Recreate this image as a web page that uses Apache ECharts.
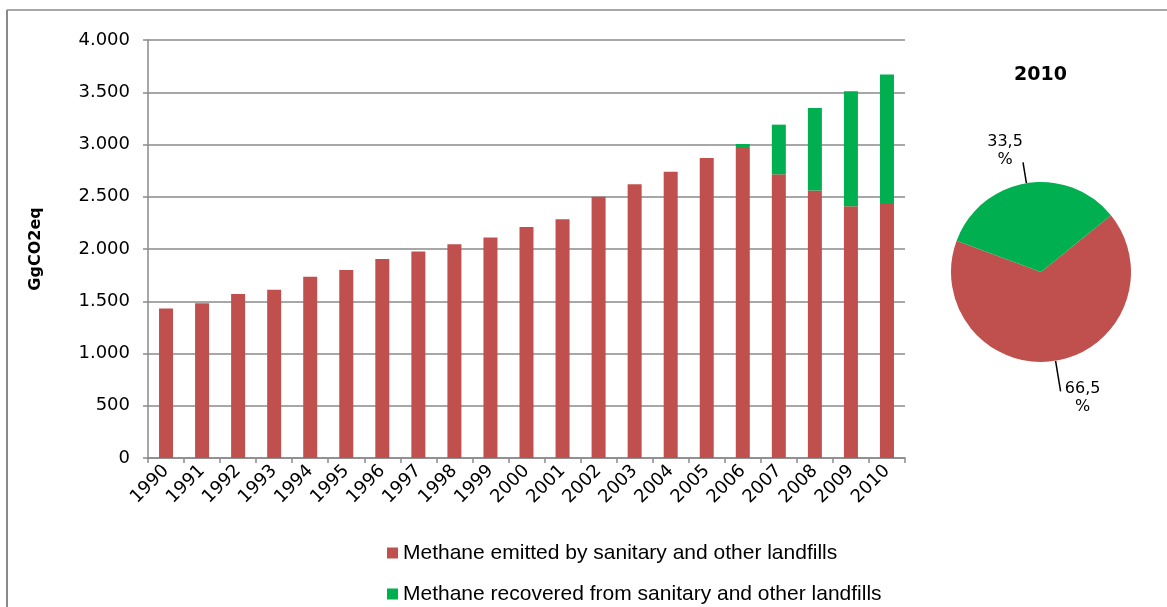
<!DOCTYPE html>
<html>
<head>
<meta charset="utf-8">
<script src="https://cdn.jsdelivr.net/npm/echarts@6/dist/echarts.min.js"></script>
<style>
  html, body { margin: 0; padding: 0; background: #fff; }
  #chart { width: 1167px; height: 607px; }
</style>
</head>
<body>
<div id="chart"></div>
<script>
var years = ['1990','1991','1992','1993','1994','1995','1996','1997','1998','1999','2000','2001','2002','2003','2004','2005','2006','2007','2008','2009','2010'];
var emitted = [1430,1480,1570,1610,1735,1800,1905,1975,2045,2110,2210,2285,2500,2620,2740,2870,2975,2715,2560,2410,2440];
var recovered = [0,0,0,0,0,0,0,0,0,0,0,0,0,0,0,0,30,475,790,1100,1230];
var seriesNames = ['Methane emitted by sanitary and other landfills', 'Methane recovered from sanitary and other landfills'];
var yTicks = [0, 500, 1000, 1500, 2000, 2500, 3000, 3500, 4000];
var pieTitle = '2010';
var pieYearIndex = years.indexOf(pieTitle);

var RED = '#C0504D';
var GREEN = '#00B050';
var GRID = '#8a8a8a';
var VERDANA = 'DejaVu Sans';
var ARIAL = 'Liberation Sans';

function fmtThousands(v) {
  return String(v).replace(/\B(?=(\d{3})+(?!\d))/g, '.');
}

var chart = echarts.init(document.getElementById('chart'), null, { renderer: 'canvas' });
chart.setOption({
  animation: false,
  backgroundColor: '#fff',
  grid: { left: 148, right: 262, top: 40, bottom: 149, containLabel: false },
  legend: {
    orient: 'vertical',
    left: 387,
    top: 542,
    padding: 0,
    itemWidth: 11,
    itemHeight: 11,
    itemGap: 19,
    icon: 'rect',
    data: seriesNames,
    textStyle: { fontFamily: ARIAL, fontSize: 21, color: '#000', lineHeight: 22 }
  },
  xAxis: {
    type: 'category',
    data: years,
    boundaryGap: true,
    axisLine: { lineStyle: { color: GRID, width: 1.5 } },
    axisTick: { show: true, length: 5, interval: 0, lineStyle: { color: GRID, width: 1.5 } },
    axisLabel: { interval: 0, rotate: 45, margin: 10, color: '#000', fontFamily: VERDANA, fontSize: 18 }
  },
  yAxis: {
    type: 'value',
    min: yTicks[0],
    max: yTicks[yTicks.length - 1],
    interval: 500,
    name: 'GgCO2eq',
    nameLocation: 'middle',
    nameGap: 104,
    nameTextStyle: { fontFamily: VERDANA, fontSize: 16, fontWeight: 'bold', color: '#000' },
    axisLine: { show: true, lineStyle: { color: GRID, width: 1.5 } },
    axisTick: { show: true, length: 5, lineStyle: { color: GRID, width: 1.5 } },
    splitLine: { show: true, lineStyle: { color: GRID, width: 1.5 } },
    axisLabel: { margin: 18, color: '#000', fontFamily: VERDANA, fontSize: 18, formatter: fmtThousands }
  },
  series: [
    {
      name: seriesNames[0],
      type: 'bar',
      stack: 'total',
      data: emitted,
      barWidth: 14,
      itemStyle: { color: RED }
    },
    {
      name: seriesNames[1],
      type: 'bar',
      stack: 'total',
      data: recovered,
      barWidth: 14,
      itemStyle: { color: GREEN }
    },
    {
      type: 'pie',
      center: [1041, 272],
      radius: 90,
      startAngle: 39,
      clockwise: true,
      data: [
        { name: seriesNames[0], value: emitted[pieYearIndex], itemStyle: { color: RED }, labelLine: { length: 31 } },
        { name: seriesNames[1], value: recovered[pieYearIndex], itemStyle: { color: GREEN }, labelLine: { length: 21 } }
      ],
      label: {
        show: true,
        position: 'outside',
        fontFamily: VERDANA,
        fontSize: 16,
        color: '#000',
        align: 'center',
        lineHeight: 18,
        formatter: function (p) { return p.percent.toFixed(1).replace('.', ',') + '\n%'; }
      },
      labelLine: { show: true, length: 22, length2: 0, lineStyle: { color: '#000', width: 1.5 } },
      labelLayout: function (p) {
        if (p.dataIndex === 1) {
          return { align: 'center', verticalAlign: 'bottom', dx: -13, dy: 6 };
        }
        return { align: 'center', verticalAlign: 'middle', dx: 17, dy: 6 };
      },
      emphasis: { disabled: true },
      legendHoverLink: false
    }
  ],
  graphic: [
    { type: 'text', left: 1041 - 27, top: 66, style: { text: pieTitle, fontFamily: VERDANA, fontSize: 19, fontWeight: 'bold', fill: '#000' } },
    { type: 'line', shape: { x1: 7, y1: 10, x2: 1167, y2: 10 }, style: { stroke: GRID, lineWidth: 1.5 } },
    { type: 'line', shape: { x1: 7, y1: 10, x2: 7, y2: 607 }, style: { stroke: GRID, lineWidth: 2 } }
  ]
});
</script>
</body>
</html>
